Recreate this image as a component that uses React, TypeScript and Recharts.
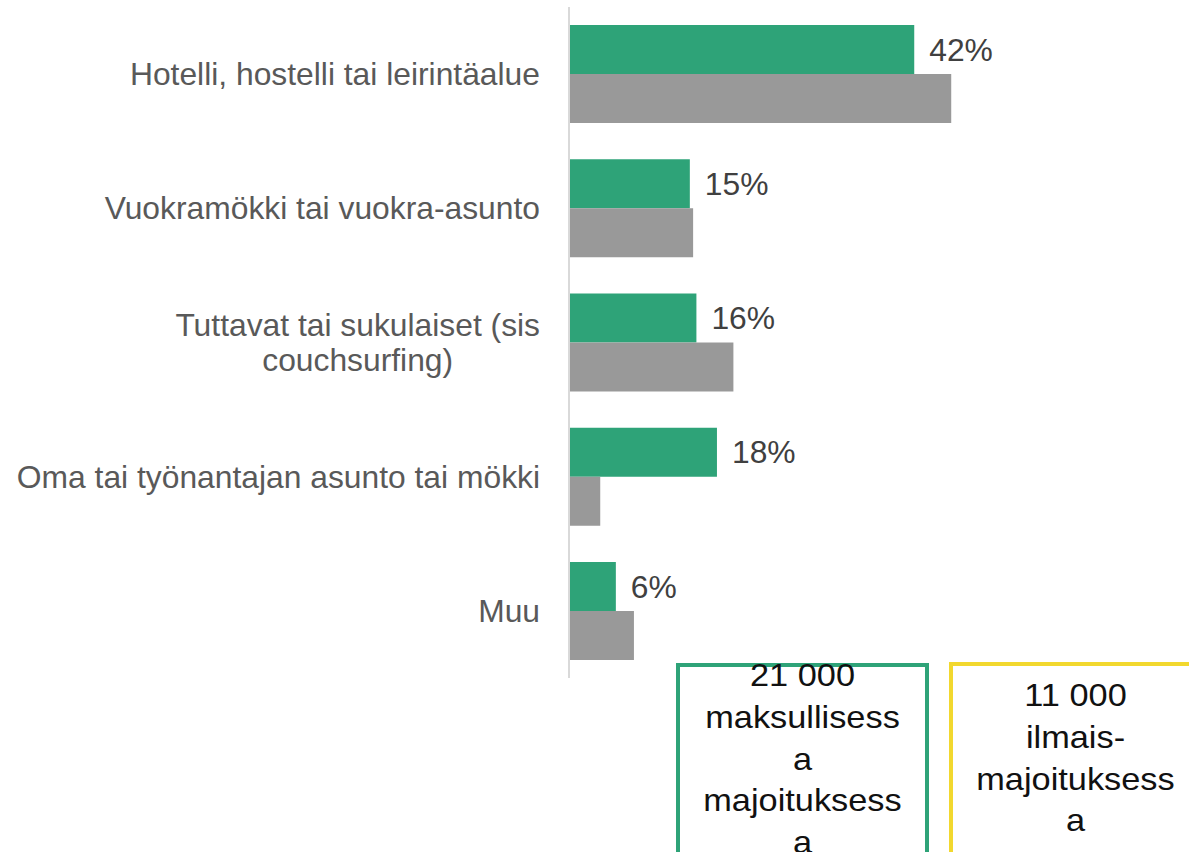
import React from 'react';
import { BarChart, Bar, XAxis, YAxis, LabelList } from 'recharts';

const categories = [
  'Hotelli, hostelli tai leirintäalue',
  'Vuokramökki tai vuokra-asunto',
  'Tuttavat tai sukulaiset (sis couchsurfing)',
  'Oma tai työnantajan asunto tai mökki',
  'Muu',
];
const paidShares = [42, 14.7, 15.5, 18, 5.7];
const freeShares = [46.5, 15.1, 20.0, 3.8, 7.9];
const paidBoxLines = ['21 000', 'maksullisess', 'a', 'majoituksess', 'a'];
const freeBoxLines = ['11 000', 'ilmais-', 'majoituksess', 'a'];

const data = categories.map((name, i) => ({ name, paid: paidShares[i], free: freeShares[i] }));

const FONT = "'Liberation Sans', Arial, sans-serif";
const LABEL_SIZE = 31.8;
const GREEN = '#2EA378';
const GRAY = '#999999';
const YELLOW = '#F2D82E';

let ctx: CanvasRenderingContext2D | null = null;
const measure = (s: string) => {
  if (!ctx && typeof document !== 'undefined') {
    ctx = document.createElement('canvas').getContext('2d');
  }
  if (ctx) {
    ctx.font = `${LABEL_SIZE}px 'Liberation Sans'`;
    return ctx.measureText(s).width;
  }
  return s.length * LABEL_SIZE * 0.5;
};

const wrap = (s: string, maxW: number) => {
  const words = s.split(' ');
  const lines: string[] = [];
  let cur = '';
  words.forEach((w) => {
    const test = cur ? cur + ' ' + w : w;
    if (cur && measure(test) > maxW) {
      lines.push(cur);
      cur = w;
    } else {
      cur = test;
    }
  });
  if (cur) lines.push(cur);
  return lines;
};

const CatTick = (props: any) => {
  const { x, y, payload } = props;
  const lines = wrap(String(payload.value), 540);
  const lh = 35;
  const startY = y - ((lines.length - 1) * lh) / 2;
  if (lines.length === 1) {
    return (
      <text x={x} y={y} dy="0.35em" textAnchor="end" fill="#595959" fontSize={LABEL_SIZE} fontFamily={FONT}>
        {lines[0]}
      </text>
    );
  }
  const maxW = Math.max(...lines.map(measure));
  const cx = x - maxW / 2;
  return (
    <text textAnchor="middle" fill="#595959" fontSize={LABEL_SIZE} fontFamily={FONT}>
      {lines.map((l, i) => (
        <tspan key={i} x={cx} y={startY + i * lh} dy="0.35em">
          {l}
        </tspan>
      ))}
    </text>
  );
};

const ValueLabel = (props: any) => {
  const { x, y, width, height, value } = props;
  return (
    <text x={x + width + 15} y={y + height / 2} dy="0.35em" fill="#404040" fontSize={LABEL_SIZE} fontFamily={FONT}>
      {Math.round(value)}%
    </text>
  );
};

const boxText: React.CSSProperties = {
  position: 'absolute',
  left: 0,
  right: 0,
  textAlign: 'center',
  fontFamily: FONT,
  fontSize: 31.5,
  lineHeight: '41.7px',
  color: '#111',
  whiteSpace: 'nowrap',
  transform: 'scaleX(1.09)',
  transformOrigin: '50% 0',
};

export default function App() {
  return (
    <div
      style={{
        position: 'absolute',
        left: 0,
        top: 0,
        width: 1189,
        height: 852,
        overflow: 'hidden',
        background: '#fff',
      }}
    >
      <BarChart
        width={1189}
        height={852}
        data={data}
        layout="vertical"
        margin={{ top: 7, right: 209, bottom: 174, left: 0 }}
        barCategoryGap="13.5%"
        barGap={0}
      >
        <XAxis type="number" domain={[0, 50]} hide />
        <YAxis
          type="category"
          dataKey="name"
          width={569}
          axisLine={{ stroke: '#d9d9d9', strokeWidth: 2 }}
          tickLine={false}
          tickSize={0}
          tickMargin={29}
          interval={0}
          tick={<CatTick />}
        />
        <Bar dataKey="paid" fill={GREEN} isAnimationActive={false}>
          <LabelList dataKey="paid" content={<ValueLabel />} />
        </Bar>
        <Bar dataKey="free" fill={GRAY} isAnimationActive={false} />
      </BarChart>

      <div
        style={{
          position: 'absolute',
          left: 676,
          top: 663,
          width: 253,
          height: 200,
          boxSizing: 'border-box',
          border: `4px solid ${GREEN}`,
        }}
      >
        <div style={{ ...boxText, top: -11.75 }}>
          {paidBoxLines.map((l, i) => (
            <div key={i}>{l}</div>
          ))}
        </div>
      </div>

      <div
        style={{
          position: 'absolute',
          left: 949,
          top: 662,
          width: 253,
          height: 200,
          boxSizing: 'border-box',
          border: `4px solid ${YELLOW}`,
        }}
      >
        <div style={{ ...boxText, top: 9.25 }}>
          {freeBoxLines.map((l, i) => (
            <div key={i}>{l}</div>
          ))}
        </div>
      </div>
    </div>
  );
}
